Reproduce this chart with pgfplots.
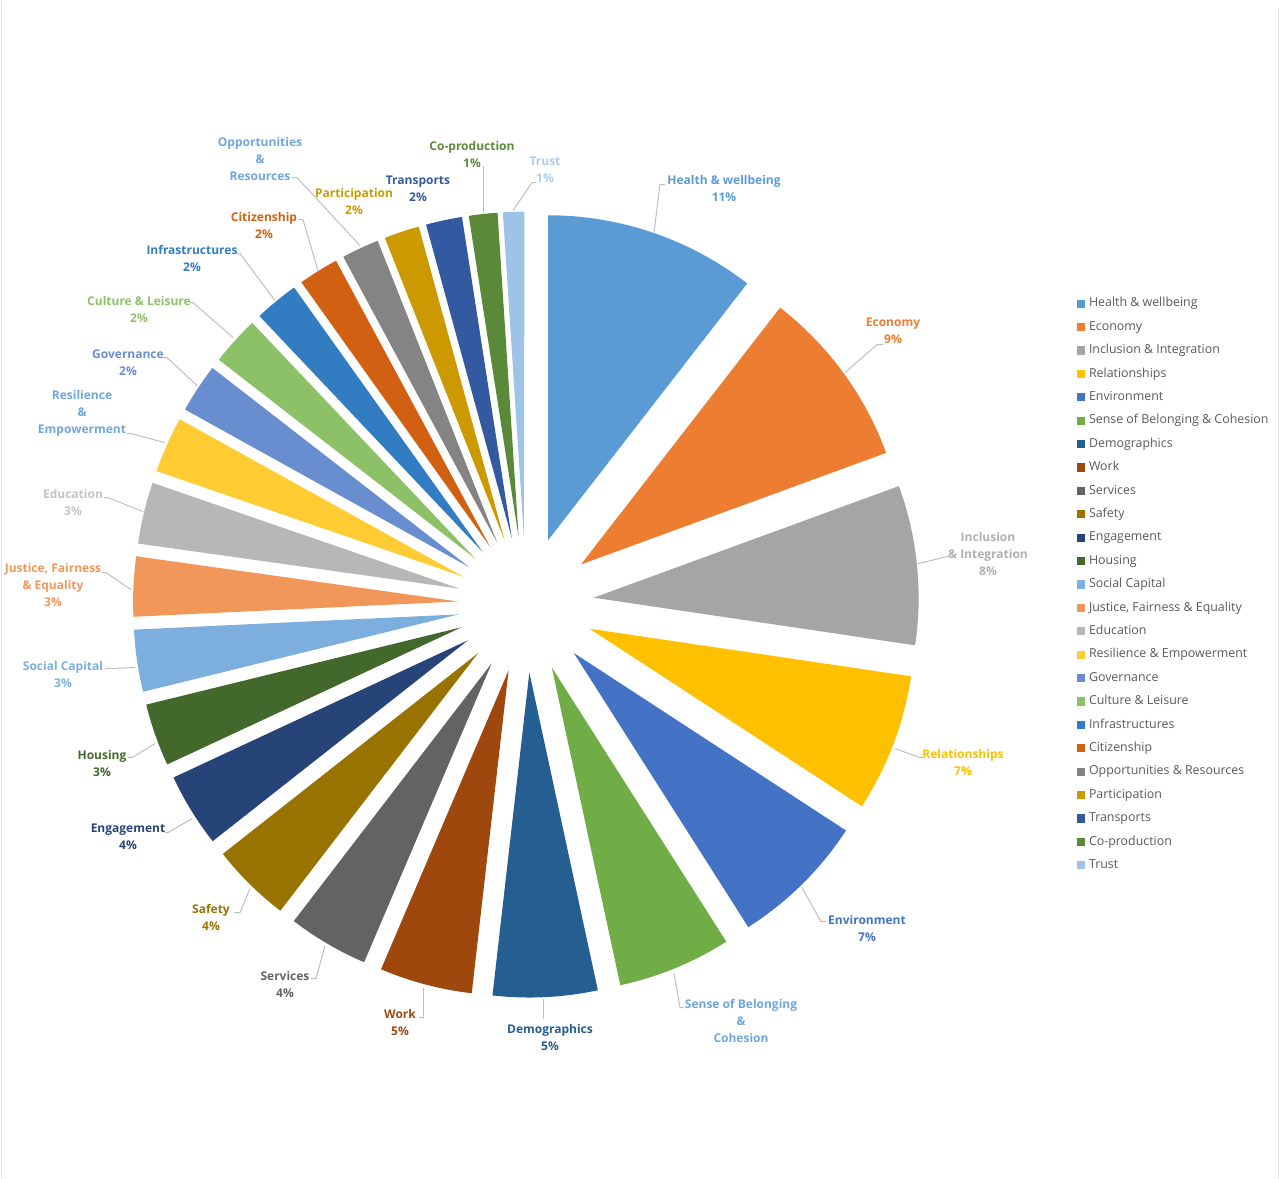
\documentclass[border=0pt]{standalone}
\usepackage{fontspec}
\setmainfont{Open Sans}
\usepackage{pgfplots}
\pgfplotsset{compat=1.18}
\definecolor{c1}{HTML}{5B9BD5}
\definecolor{c2}{HTML}{ED7D31}
\definecolor{c3}{HTML}{A5A5A5}
\definecolor{c4}{HTML}{FFC000}
\definecolor{c5}{HTML}{4472C4}
\definecolor{c6}{HTML}{70AD47}
\definecolor{c7}{HTML}{255E91}
\definecolor{c8}{HTML}{9E480E}
\definecolor{c9}{HTML}{636363}
\definecolor{c10}{HTML}{997300}
\definecolor{c11}{HTML}{264478}
\definecolor{c12}{HTML}{43682B}
\definecolor{c13}{HTML}{7CAFDD}
\definecolor{c14}{HTML}{F1975A}
\definecolor{c15}{HTML}{B7B7B7}
\definecolor{c16}{HTML}{FFCD33}
\definecolor{c17}{HTML}{698ED0}
\definecolor{c18}{HTML}{8CC168}
\definecolor{c19}{HTML}{327DC2}
\definecolor{c20}{HTML}{D26012}
\definecolor{c21}{HTML}{848484}
\definecolor{c22}{HTML}{CC9A00}
\definecolor{c23}{HTML}{335AA1}
\definecolor{c24}{HTML}{5A8A39}
\definecolor{c25}{HTML}{9DC3E6}
\definecolor{lblblue}{HTML}{6EA6DD}
\definecolor{lblgray}{HTML}{B0B0B0}
\definecolor{lbledu}{HTML}{C4C4C4}
\definecolor{lbltrust}{HTML}{AECCEC}
\definecolor{leadc}{HTML}{BFBFBF}
\definecolor{legtext}{HTML}{595959}
\definecolor{framec}{HTML}{E2E2E2}
\tikzset{lbl/.style={align=center, inner sep=0pt, font=\fontsize{6}{8.5}\selectfont\bfseries},
  leader/.style={draw=leadc, line width=0.5pt}}
\begin{document}
\begin{tikzpicture}
\begin{axis}[
  scale only axis, width=640pt, height=588.5pt,
  xmin=0, xmax=1280, ymin=0, ymax=1177, y dir=reverse,
  hide axis, clip=false,
  legend style={at={(axis cs:1077,297)}, anchor=north west, draw=none, fill=none,
    inner sep=0pt, outer sep=0pt, font=\fontsize{6.2}{7}\selectfont, text=legtext,
    row sep=5.7pt, column sep=0pt,
    nodes={inner sep=0pt, text height=4.6pt, text depth=1.4pt}},
  legend cell align=left,
  legend image code/.code={\fill[#1] (0pt,-1.8pt) rectangle (3.6pt,1.8pt); \path (5.6pt,0pt);},
]
% frame and bounding box
\path (axis cs:0,0) rectangle (axis cs:1280,1177);
\draw[framec, line width=0.6pt] (axis cs:1.5,0) -- (axis cs:1.5,1177);
\draw[framec, line width=0.6pt] (axis cs:1278.5,7) -- (axis cs:1278.5,1177);

% exploded pie: shares in percent
\pgfplotsextra{
  \gdef\cum{0}
  \foreach \p/\c in {10.5/c1, 8.92/c2, 7.92/c3, 6.86/c4, 6.78/c5, 5.64/c6, 5.19/c7,
      4.61/c8, 4.0/c9, 3.97/c10, 3.67/c11, 3.11/c12, 3.08/c13, 2.97/c14, 3.06/c15,
      2.78/c16, 2.44/c17, 2.44/c18, 2.2/c19, 2.0/c20, 1.86/c21, 1.75/c22,
      1.8/c23, 1.42/c24, 1.06/c25}{
    \pgfmathsetmacro\s{90-\cum*3.6}
    \pgfmathsetmacro\e{90-(\cum+\p)*3.6}
    \pgfmathsetmacro\m{(\s+\e)/2}
    \fill[\c]
      (axis cs:526,604) ++(\m:34pt) -- ++(\s:162.5pt)
      arc[start angle=\s, end angle=\e, radius=162.5pt] -- cycle;
    \pgfmathsetmacro\nc{\cum+\p}
    \global\let\cum\nc
  }
}

% leader lines
\draw[leader] (axis cs:654,232) -- (axis cs:660,184) -- (axis cs:665,184);
\draw[leader] (axis cs:845,372) -- (axis cs:877,344) -- (axis cs:883,344);
\draw[leader] (axis cs:918,563) -- (axis cs:947,556) -- (axis cs:950,556);
\draw[leader] (axis cs:895,748) -- (axis cs:920,757) -- (axis cs:923,757);
\draw[leader] (axis cs:802,887) -- (axis cs:821,921) -- (axis cs:826,921);
\draw[leader] (axis cs:674,972) -- (axis cs:680,1007) -- (axis cs:684,1007);
\draw[leader] (axis cs:543,998) -- (axis cs:543,1018);
\draw[leader] (axis cs:423,987) -- (axis cs:423,1017) -- (axis cs:419,1017);
\draw[leader] (axis cs:325,945) -- (axis cs:316,978) -- (axis cs:311,978);
\draw[leader] (axis cs:250,888) -- (axis cs:240,912) -- (axis cs:234,912);
\draw[leader] (axis cs:192,818) -- (axis cs:168,832) -- (axis cs:165,832);
\draw[leader] (axis cs:155,743) -- (axis cs:132,757) -- (axis cs:128,757);
\draw[leader] (axis cs:135,667) -- (axis cs:105,668);
\draw[leader] (axis cs:131,589) -- (axis cs:106,572) -- (axis cs:102,572);
\draw[leader] (axis cs:143,511) -- (axis cs:108,497) -- (axis cs:104,497);
\draw[leader] (axis cs:165,442) -- (axis cs:131,433) -- (axis cs:127,433);
\draw[leader] (axis cs:197,385) -- (axis cs:167,357) -- (axis cs:163,357);
\draw[leader] (axis cs:233,337) -- (axis cs:193,302) -- (axis cs:190,302);
\draw[leader] (axis cs:275,300) -- (axis cs:240,253) -- (axis cs:237,253);
\draw[leader] (axis cs:318,270) -- (axis cs:303,219) -- (axis cs:298,219);
\draw[leader] (axis cs:360,245) -- (axis cs:297,177) -- (axis cs:292,177);
\draw[leader] (axis cs:483,212) -- (axis cs:483,165);
\draw[leader] (axis cs:513,210) -- (axis cs:532,182) -- (axis cs:536,182);

% data labels
\node[lbl, text=c1] at (axis cs:724,187.5) {Health \& wellbeing\\11\%};
\node[lbl, text=c2] at (axis cs:893,330.5) {Economy\\9\%};
\node[lbl, text=lblgray] at (axis cs:988,553) {Inclusion\\\& Integration\\8\%};
\node[lbl, text=c4] at (axis cs:963,761.5) {Relationships\\7\%};
\node[lbl, text=c5] at (axis cs:867,927.5) {Environment\\7\%};
\node[lbl, text=lblblue] at (axis cs:741,1020) {Sense of Belonging\\\&\\Cohesion};
\node[lbl, text=c7] at (axis cs:550,1036.5) {Demographics\\5\%};
\node[lbl, text=c8] at (axis cs:400,1021.5) {Work\\5\%};
\node[lbl, text=c9] at (axis cs:285,983.5) {Services\\4\%};
\node[lbl, text=c10] at (axis cs:211,916.5) {Safety\\4\%};
\node[lbl, text=c11] at (axis cs:128,836.5) {Engagement\\4\%};
\node[lbl, text=c12] at (axis cs:102,762.5) {Housing\\3\%};
\node[lbl, text=c13] at (axis cs:63,673.5) {Social Capital\\3\%};
\node[lbl, text=c14] at (axis cs:53,584) {Justice, Fairness\\\& Equality\\3\%};
\node[lbl, text=lbledu] at (axis cs:73,501.5) {Education\\3\%};
\node[lbl, text=lblblue] at (axis cs:82,412.5) {Resilience\\\&\\Empowerment};
\node[lbl, text=c17] at (axis cs:128,362.5) {Governance\\2\%};
\node[lbl, text=c18] at (axis cs:139,308.5) {Culture \& Leisure\\2\%};
\node[lbl, text=c19] at (axis cs:192,257.5) {Infrastructures\\2\%};
\node[lbl, text=c20] at (axis cs:264,224.5) {Citizenship\\2\%};
\node[lbl, text=lblblue] at (axis cs:260,158) {Opportunities\\\&\\Resources};
\node[lbl, text=c22] at (axis cs:354,200.5) {Participation\\2\%};
\node[lbl, text=c23] at (axis cs:418,188.5) {Transports\\2\%};
\node[lbl, text=c24] at (axis cs:472,153.5) {Co-production\\1\%};
\node[lbl, text=lbltrust] at (axis cs:545,169.5) {Trust\\1\%};

% legend
\addlegendimage{c1}\addlegendentry{Health \& wellbeing}
\addlegendimage{c2}\addlegendentry{Economy}
\addlegendimage{c3}\addlegendentry{Inclusion \& Integration}
\addlegendimage{c4}\addlegendentry{Relationships}
\addlegendimage{c5}\addlegendentry{Environment}
\addlegendimage{c6}\addlegendentry{Sense of Belonging \& Cohesion}
\addlegendimage{c7}\addlegendentry{Demographics}
\addlegendimage{c8}\addlegendentry{Work}
\addlegendimage{c9}\addlegendentry{Services}
\addlegendimage{c10}\addlegendentry{Safety}
\addlegendimage{c11}\addlegendentry{Engagement}
\addlegendimage{c12}\addlegendentry{Housing}
\addlegendimage{c13}\addlegendentry{Social Capital}
\addlegendimage{c14}\addlegendentry{Justice, Fairness \& Equality}
\addlegendimage{c15}\addlegendentry{Education}
\addlegendimage{c16}\addlegendentry{Resilience \& Empowerment}
\addlegendimage{c17}\addlegendentry{Governance}
\addlegendimage{c18}\addlegendentry{Culture \& Leisure}
\addlegendimage{c19}\addlegendentry{Infrastructures}
\addlegendimage{c20}\addlegendentry{Citizenship}
\addlegendimage{c21}\addlegendentry{Opportunities \& Resources}
\addlegendimage{c22}\addlegendentry{Participation}
\addlegendimage{c23}\addlegendentry{Transports}
\addlegendimage{c24}\addlegendentry{Co-production}
\addlegendimage{c25}\addlegendentry{Trust}
\end{axis}
\end{tikzpicture}
\end{document}
